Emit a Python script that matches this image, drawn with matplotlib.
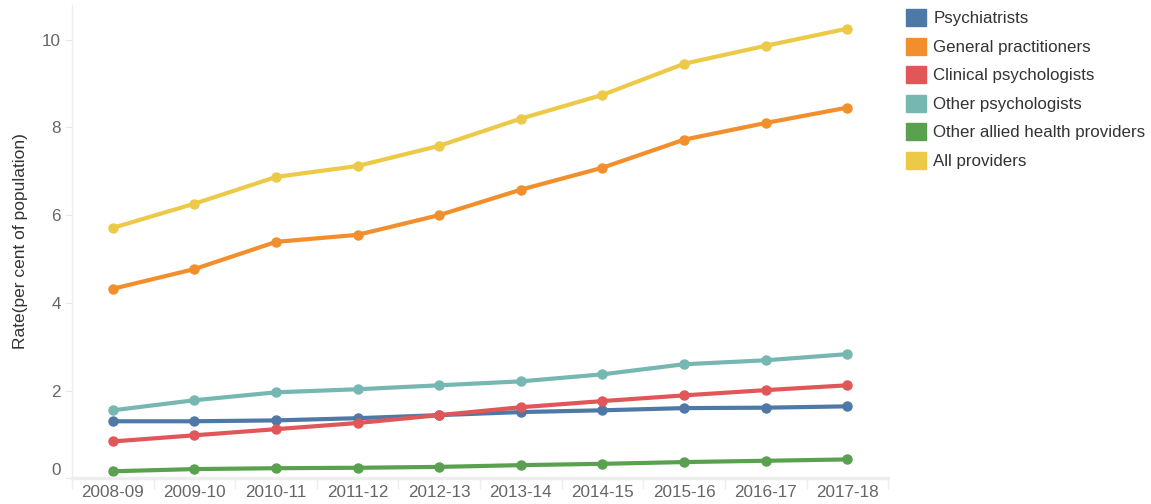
import matplotlib
matplotlib.use("Agg")
from matplotlib import pyplot as plt
from matplotlib.patches import Patch
import numpy as np

plt.rcParams['font.family'] = ['Liberation Sans', 'DejaVu Sans']

years = ['2008-09', '2009-10', '2010-11', '2011-12', '2012-13',
         '2013-14', '2014-15', '2015-16', '2016-17', '2017-18']

psychiatrists = [1.30, 1.30, 1.32, 1.37, 1.44, 1.51, 1.55, 1.60, 1.61, 1.64]
gps = [4.32, 4.77, 5.39, 5.55, 6.00, 6.58, 7.08, 7.72, 8.10, 8.45]
clinical = [0.84, 0.98, 1.12, 1.26, 1.44, 1.62, 1.76, 1.89, 2.01, 2.12]
other_psych = [1.55, 1.78, 1.96, 2.03, 2.12, 2.21, 2.37, 2.60, 2.69, 2.83]
allied = [0.16, 0.21, 0.23, 0.24, 0.26, 0.30, 0.33, 0.37, 0.40, 0.43]
all_providers = [5.71, 6.26, 6.87, 7.12, 7.58, 8.20, 8.74, 9.45, 9.86, 10.25]

names = ['Psychiatrists', 'General practitioners', 'Clinical psychologists',
         'Other psychologists', 'Other allied health providers', 'All providers']
series = [psychiatrists, gps, clinical, other_psych, allied, all_providers]
colors = ['#4e79a7', '#f28e2b', '#e15759', '#76b7b2', '#59a14f', '#edc948']

fig = plt.figure(figsize=(11.51, 5.04), dpi=100)
ax = fig.add_axes([0.0626, 0.051, 0.709, 0.94])

x = np.arange(len(years))
for vals, c in zip(series, colors):
    ax.plot(x, vals, color=c, lw=3, marker='o', ms=6.5, solid_capstyle='round')

ax.set_xlim(-0.5, len(years) - 0.5)
ax.set_ylim(0, 10.8)
ax.set_yticks([0, 2, 4, 6, 8, 10])
ax.set_xticks(x)
ax.set_xticklabels(years)
ax.set_xticks(np.arange(len(years) + 1) - 0.5, minor=True)

for s in ['top', 'right']:
    ax.spines[s].set_visible(False)
ax.spines['left'].set_color('#eeeeee')
ax.spines['left'].set_linewidth(1)
ax.spines['bottom'].set_color('#eeeeee')
ax.spines['bottom'].set_linewidth(2.5)

ax.tick_params(axis='y', colors='#e6e6e6', labelcolor='#666666', labelsize=12.3, length=5, pad=3)
ax.tick_params(axis='x', which='major', length=0, labelcolor='#666666', labelsize=12.3, pad=5)
ax.tick_params(axis='x', which='minor', colors='#eeeeee', length=8, width=1)
ax.yaxis.get_ticklabels()[0].set_verticalalignment('bottom')
ax.set_ylabel('Rate(per cent of population)', fontsize=12.5, color='#333333', labelpad=10)

handles = [Patch(color=c, label=n) for c, n in zip(colors, names)]
fig.legend(handles=handles, loc='upper left', bbox_to_anchor=(0.774, 1.012),
           frameon=False, fontsize=12.2, handlelength=1.15, handleheight=1.15,
           handletextpad=0.45, labelspacing=0.67, labelcolor='#333333')

plt.savefig('out.png', dpi=100)
